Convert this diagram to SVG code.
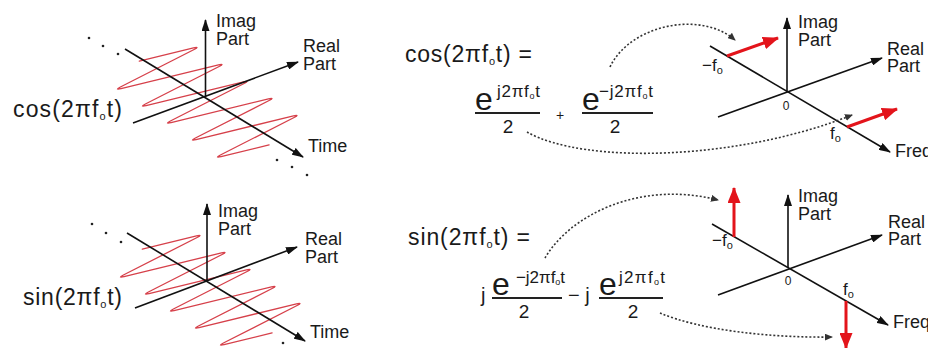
<svg xmlns="http://www.w3.org/2000/svg" xmlns:xlink="http://www.w3.org/1999/xlink" width="928" height="348" viewBox="0 0 928 348">
<style>
text{font-family:"Liberation Sans",Arial,sans-serif;fill:#1a1a1a}
.ax{stroke:#111;stroke-width:1.6;fill:none;marker-end:url(#ah)}
.red{stroke:#e3141b;stroke-width:3;fill:none;marker-end:url(#rh)}
.dot{stroke:#333;stroke-width:1.6;fill:none;stroke-dasharray:2 2;marker-end:url(#dh)}
.hx{stroke:#d6404a;stroke-width:1.3;fill:none;stroke-linejoin:round;stroke-linecap:round}
.lbl{font-size:18px}
.bar{stroke:#222;stroke-width:2}
.pt{fill:#222}
</style>
<defs>
<marker id="ah" viewBox="0 0 12 8" refX="11" refY="4" markerWidth="12" markerHeight="8" markerUnits="userSpaceOnUse" orient="auto"><path d="M0,0L12,4L0,8z" fill="#111"/></marker>
<marker id="rh" viewBox="0 0 16 13" refX="15" refY="6.5" markerWidth="16" markerHeight="13" markerUnits="userSpaceOnUse" orient="auto"><path d="M0,0L16,6.5L0,13z" fill="#e3141b"/></marker>
<marker id="dh" viewBox="0 0 8 7" refX="7" refY="3.5" markerWidth="8" markerHeight="7" markerUnits="userSpaceOnUse" orient="auto"><path d="M0,0L8,3.5L0,7z" fill="#333"/></marker>
<path id="helix" class="hx" d="M139.3,61.1 L193.48,47.9 Q200.3,46.3 194.1,49.54 L120.4,86.96 Q114.2,90.2 121.02,88.6 L218.48,64.9 Q225.3,63.3 219.1,66.54 L145.4,103.96 Q139.2,107.2 146.02,105.6 L243.48,81.9 Q250.3,80.3 244.1,83.54 L170.4,120.96 Q164.2,124.2 171.02,122.6 L268.48,98.9 Q275.3,97.3 269.1,100.54 L195.4,137.96 Q189.2,141.2 196.02,139.6 L293.48,115.9 Q300.3,114.3 294.1,117.54 L220.4,154.96 Q214.2,158.2 221.02,156.6 L269.1,144.9"/>
</defs>

<g id="cos-helix-panel">
<use href="#helix" xlink:href="#helix"/>
<line class="ax" x1="205.5" y1="97" x2="205.5" y2="20"/>
<line class="ax" x1="125" y1="49" x2="303" y2="157"/>
<line class="ax" x1="133" y1="123" x2="298" y2="62"/>
<circle class="pt" cx="89" cy="38" r="1.3"/><circle class="pt" cx="103" cy="46" r="1.3"/><circle class="pt" cx="118" cy="54" r="1.3"/>
<circle class="pt" cx="277" cy="160" r="1.3"/><circle class="pt" cx="292" cy="167" r="1.3"/><circle class="pt" cx="307" cy="175" r="1.3"/>
<text class="lbl" x="216" y="27">Imag</text>
<text class="lbl" x="216" y="45">Part</text>
<text class="lbl" x="303" y="52">Real</text>
<text class="lbl" x="303" y="70">Part</text>
<text class="lbl" x="308" y="152">Time</text>
<text x="13" y="117" font-size="23" textLength="109">cos(2πf<tspan font-size="11" dy="3">o</tspan><tspan dy="-3">t)</tspan></text>
</g>

<g id="sin-helix-panel">
<use href="#helix" xlink:href="#helix" transform="translate(3,188)"/>
<line class="ax" x1="207" y1="281" x2="207" y2="204"/>
<line class="ax" x1="127" y1="233" x2="305" y2="341"/>
<line class="ax" x1="135" y1="308" x2="297" y2="247"/>
<circle class="pt" cx="92" cy="224" r="1.3"/><circle class="pt" cx="106" cy="233" r="1.3"/><circle class="pt" cx="121" cy="242" r="1.3"/>
<circle class="pt" cx="283" cy="343" r="1.3"/>
<text class="lbl" x="218" y="217">Imag</text>
<text class="lbl" x="218" y="235">Part</text>
<text class="lbl" x="305" y="245">Real</text>
<text class="lbl" x="305" y="263">Part</text>
<text class="lbl" x="310" y="338">Time</text>
<text x="23" y="305" font-size="23" textLength="99">sin(2πf<tspan font-size="11" dy="3">o</tspan><tspan dy="-3">t)</tspan></text>
</g>

<g id="cos-equation">
<text x="405" y="62" font-size="23" textLength="127">cos(2πf<tspan font-size="11" dy="3">o</tspan><tspan dy="-3">t) =</tspan></text>
<text x="475" y="110" font-size="32">e</text>
<text x="497" y="97" font-size="17" textLength="43">j2πf<tspan font-size="9" dy="2">o</tspan><tspan dy="-2">t</tspan></text>
<line class="bar" x1="475" y1="113" x2="540" y2="113"/>
<text x="508" y="133" font-size="19" text-anchor="middle">2</text>
<text x="560" y="120" font-size="14" text-anchor="middle">+</text>
<text x="582" y="110" font-size="32">e</text>
<text x="599" y="97" font-size="17" textLength="54">−j2πf<tspan font-size="9" dy="2">o</tspan><tspan dy="-2">t</tspan></text>
<line class="bar" x1="582" y1="113" x2="653" y2="113"/>
<text x="615" y="133" font-size="19" text-anchor="middle">2</text>
</g>

<g id="sin-equation">
<text x="408" y="245" font-size="23" textLength="122">sin(2πf<tspan font-size="11" dy="3">o</tspan><tspan dy="-3">t) =</tspan></text>
<text x="481" y="302" font-size="20">j</text>
<text x="492" y="295" font-size="32">e</text>
<text x="516" y="283" font-size="17" textLength="49">−j2πf<tspan font-size="9" dy="2">o</tspan><tspan dy="-2">t</tspan></text>
<line class="bar" x1="492" y1="298" x2="562" y2="298"/>
<text x="524" y="318" font-size="19" text-anchor="middle">2</text>
<text x="568" y="302" font-size="20">− j</text>
<text x="599" y="295" font-size="32">e</text>
<text x="619" y="283" font-size="17" textLength="46">j2πf<tspan font-size="9" dy="2">o</tspan><tspan dy="-2">t</tspan></text>
<line class="bar" x1="599" y1="298" x2="663" y2="298"/>
<text x="633" y="318" font-size="19" text-anchor="middle">2</text>
</g>

<g id="cos-spectrum">
<line class="ax" x1="787" y1="92" x2="787" y2="18"/>
<line class="ax" x1="710" y1="46" x2="890" y2="152"/>
<line class="ax" x1="718" y1="117" x2="882" y2="58"/>
<line class="red" x1="727" y1="56" x2="778" y2="38"/>
<line class="red" x1="847" y1="127" x2="897" y2="109"/>
<text class="lbl" x="798" y="28">Imag</text>
<text class="lbl" x="798" y="46">Part</text>
<text class="lbl" x="887" y="55">Real</text>
<text class="lbl" x="887" y="72">Part</text>
<text class="lbl" x="895" y="157">Freq</text>
<text x="786" y="110" font-size="12" text-anchor="middle">0</text>
<text x="702" y="71" font-size="17">−f<tspan font-size="11" dy="3">o</tspan></text>
<text x="830" y="139" font-size="17">f<tspan font-size="11" dy="3">o</tspan></text>
</g>

<g id="sin-spectrum">
<line class="ax" x1="788" y1="268" x2="788" y2="195"/>
<line class="ax" x1="712" y1="224" x2="888" y2="325"/>
<line class="ax" x1="718" y1="295" x2="882" y2="235"/>
<line class="red" x1="734" y1="237" x2="734" y2="188"/>
<line class="red" x1="846" y1="301" x2="846" y2="348"/>
<text class="lbl" x="798" y="202">Imag</text>
<text class="lbl" x="798" y="220">Part</text>
<text class="lbl" x="888" y="228">Real</text>
<text class="lbl" x="888" y="245">Part</text>
<text class="lbl" x="893" y="328">Freq</text>
<text x="788" y="285" font-size="12" text-anchor="middle">0</text>
<text x="712" y="246" font-size="17">−f<tspan font-size="11" dy="3">o</tspan></text>
<text x="843" y="295" font-size="17">f<tspan font-size="11" dy="3">o</tspan></text>
</g>

<g id="connectors">
<path class="dot" d="M610,67 C630,25 700,10 735,40"/>
<path class="dot" d="M527,132 C585,165 740,160 852,115"/>
<path class="dot" d="M545,258 C570,215 640,180 718,200"/>
<path class="dot" d="M660,313 C700,330 770,338 832,337"/>
</g>
</svg>
